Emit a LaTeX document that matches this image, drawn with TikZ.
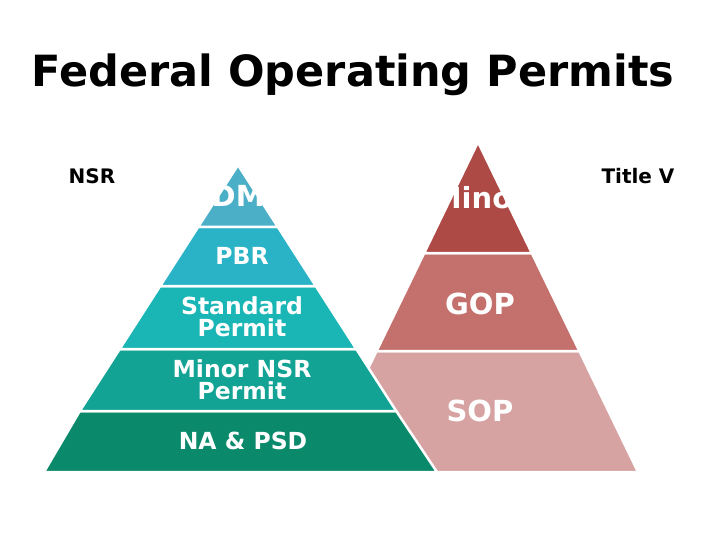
\documentclass[tikz,border=0pt]{standalone}
\usepackage{fontspec}
\setmainfont{DejaVu Sans}
\begin{document}
\begin{tikzpicture}[x=1pt,y=-1pt,
  band/.style={draw=white,line width=2.5pt,line join=miter},
  lbl/.style={text=white,font=\bfseries\fontsize{23.5}{24}\selectfont,align=center},
  big/.style={text=white,font=\bfseries\fontsize{29}{30}\selectfont}]
\useasboundingbox[fill=white] (0,0) rectangle (720,540);
\definecolor{l1}{HTML}{4BAFC8}\definecolor{l2}{HTML}{2AB3C6}\definecolor{l3}{HTML}{1AB5B5}
\definecolor{l4}{HTML}{12A394}\definecolor{l5}{HTML}{0A8A6A}
\definecolor{r1}{HTML}{AE4A45}\definecolor{r2}{HTML}{C4706C}\definecolor{r3}{HTML}{D6A2A2}
% right pyramid
\path[band,fill=r3] (376.6,351)--(579.4,351)--(638,472)--(318,472)--cycle;
\path[band,fill=r2] (424.2,253)--(531.8,253)--(579.4,351)--(376.6,351)--cycle;
\path[band,fill=r1] (478,142)--(531.8,253)--(424.2,253)--cycle;
% left pyramid
\path[band,fill=l5] (79.8,411)--(396.2,411)--(437,472)--(44,472)--cycle;
\path[band,fill=l4] (119.7,349)--(356.3,349)--(396.2,411)--(79.8,411)--cycle;
\path[band,fill=l3] (160.2,286)--(315.8,286)--(356.3,349)--(119.7,349)--cycle;
\path[band,fill=l2] (198.1,227)--(277.9,227)--(315.8,286)--(160.2,286)--cycle;
\path[band,fill=l1] (238,165)--(277.9,227)--(198.1,227)--cycle;
% texts
\node[font=\bfseries\fontsize{43}{46}\selectfont] (title) at (353,75) {Federal Operating Permits};
\node[font=\bfseries\fontsize{20}{22}\selectfont] (nsr) at (92,176) {NSR};
\node[font=\bfseries\fontsize{20}{22}\selectfont] (tv) at (638,176) {Title V};
\begin{scope}
\clip (238,165)--(277.9,227)--(198.1,227)--cycle;
\node[big] (dm) at (238,196) {PDMS};
\end{scope}
\node[lbl] (pbr) at (242,256) {PBR};
\node[lbl] (std) at (242,317) {Standard\\[-2pt]Permit};
\node[lbl] (mnsr) at (242,380) {Minor NSR\\[-2pt]Permit};
\node[lbl] (na) at (243,441) {NA \& PSD};
\begin{scope}
\clip (478,142)--(531.8,253)--(424.2,253)--cycle;
\node[big,anchor=east] (minor) at (530,198) {Minor};
\end{scope}
\node[big] (gop) at (480,304) {GOP};
\node[big] (sop) at (480,411) {SOP};
\end{tikzpicture}
\end{document}
